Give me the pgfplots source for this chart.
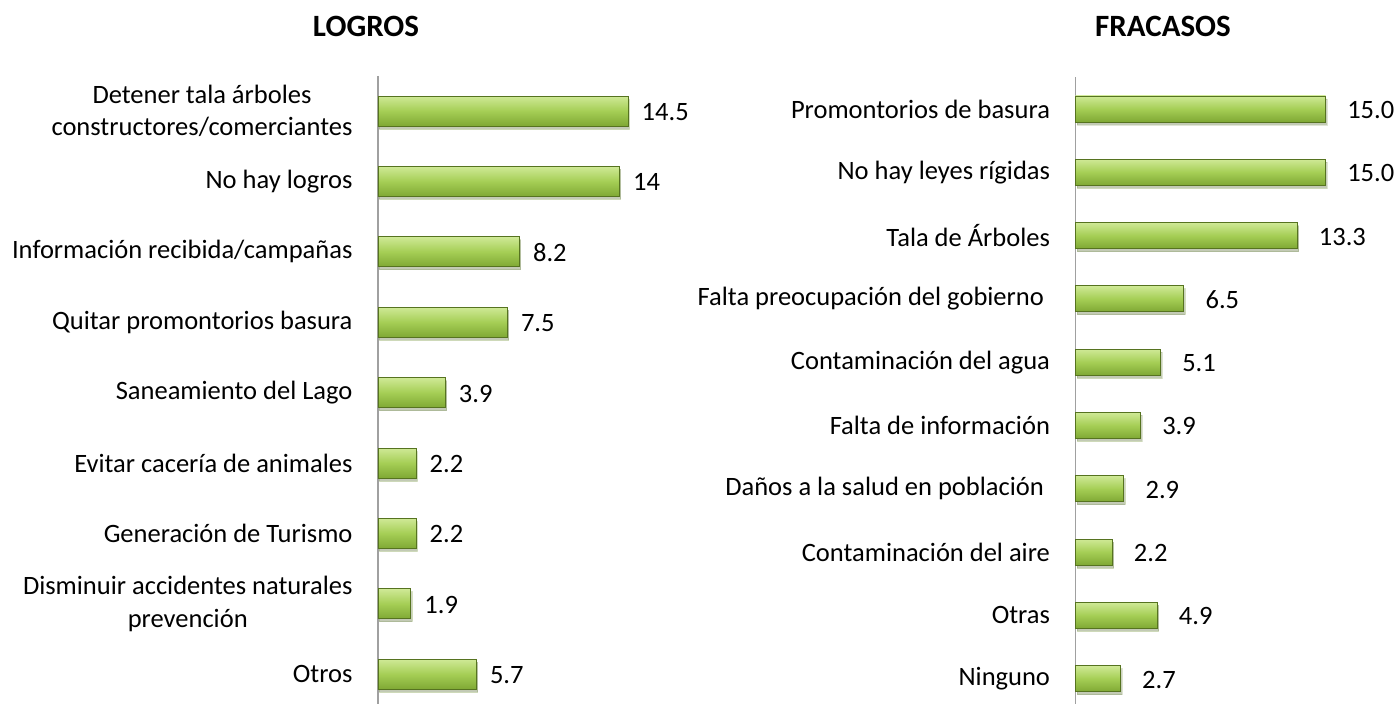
\documentclass[border=0pt]{standalone}
\usepackage{fontspec}
\setmainfont{Carlito}
\usepackage{pgfplots}
\pgfplotsset{compat=1.18}
\usetikzlibrary{shadows}
\definecolor{bartop}{HTML}{CFE996}
\definecolor{barmid}{HTML}{A5CE55}
\definecolor{barbot}{HTML}{7FA834}
\definecolor{baredge}{HTML}{567320}
\definecolor{axgray}{HTML}{A0A0A0}
\pgfplotsset{
  mybars/.style={
    scale only axis,
    axis x line=none,
    axis y line*=left,
    y axis line style={axgray, line width=1.3pt},
    y dir=reverse,
    xmin=0,
    major tick length=0pt,
    yticklabel style={align=center, font=\fontsize{26.5}{32.5}\selectfont, xshift=-22pt},
    point meta=explicit symbolic,
    nodes near coords,
    every node near coord/.append style={anchor=west, yshift=-1pt, font=\fontsize{26.5}{31}\selectfont, text=black},
    clip=false,
  },
  gbar/.style={xbar, bar shift=0pt, bar width=#1, draw=baredge, line width=0.8pt,
    top color=bartop, bottom color=barbot, middle color=barmid,
    drop shadow={shadow xshift=1.5pt, shadow yshift=-3pt, opacity=0.18, fill=black}},
}
\begin{document}
\begin{tikzpicture}[x=1pt,y=1pt]
\useasboundingbox (0,0) rectangle (1400,704);
\node[font=\fontsize{31}{34}\selectfont\bfseries] at (366,678) {LOGROS};
\node[font=\fontsize{31}{34}\selectfont\bfseries] at (1163,678) {FRACASOS};
\begin{axis}[mybars,
  at={(378pt,0pt)}, anchor=south west,
  width=258.6pt, height=628.2pt,
  xmax=15, ymin=-0.5, ymax=8.423,
  ytick={0,...,8},
  every node near coord/.append style={xshift=10pt},
  yticklabels={{Detener tala árboles\\constructores/comerciantes},{No hay logros},{Información recibida/campañas},{Quitar promontorios basura},{Saneamiento del Lago},{Evitar cacería de animales},{Generación de Turismo},{Disminuir accidentes naturales\\prevención},{Otros}},
]
\addplot[gbar=30pt] coordinates {(14.5,0) [14.5]};
\addplot[gbar=30pt] coordinates {(14,1) [14]};
\addplot[gbar=30pt] coordinates {(8.2,2) [8.2]};
\addplot[gbar=30pt] coordinates {(7.5,3) [7.5]};
\addplot[gbar=30pt] coordinates {(3.9,4) [3.9]};
\addplot[gbar=30pt] coordinates {(2.2,5) [2.2]};
\addplot[gbar=30pt] coordinates {(2.2,6) [2.2]};
\addplot[gbar=30pt] coordinates {(1.9,7) [1.9]};
\addplot[gbar=30pt] coordinates {(5.7,8) [5.7]};
\end{axis}
\begin{axis}[mybars,
  at={(1075.5pt,0pt)}, anchor=south west,
  width=266.7pt, height=626.7pt,
  xmax=16, ymin=-0.5, ymax=9.4,
  ytick={0,...,9},
  every node near coord/.append style={xshift=18pt},
  yticklabels={{Promontorios de basura},{No hay leyes rígidas},{Tala de Árboles},{Falta preocupación del gobierno\phantom{i}},{Contaminación del agua},{Falta de información},{Daños a la salud en población\phantom{i}},{Contaminación del aire},{Otras},{Ninguno}},
]
\addplot[gbar=26pt] coordinates {(15.0,0) [15.0]};
\addplot[gbar=26pt] coordinates {(15.0,1) [15.0]};
\addplot[gbar=26pt] coordinates {(13.3,2) [13.3]};
\addplot[gbar=26pt] coordinates {(6.5,3) [6.5]};
\addplot[gbar=26pt] coordinates {(5.1,4) [5.1]};
\addplot[gbar=26pt] coordinates {(3.9,5) [3.9]};
\addplot[gbar=26pt] coordinates {(2.9,6) [2.9]};
\addplot[gbar=26pt] coordinates {(2.2,7) [2.2]};
\addplot[gbar=26pt] coordinates {(4.9,8) [4.9]};
\addplot[gbar=26pt] coordinates {(2.7,9) [2.7]};
\end{axis}
\end{tikzpicture}
\end{document}
